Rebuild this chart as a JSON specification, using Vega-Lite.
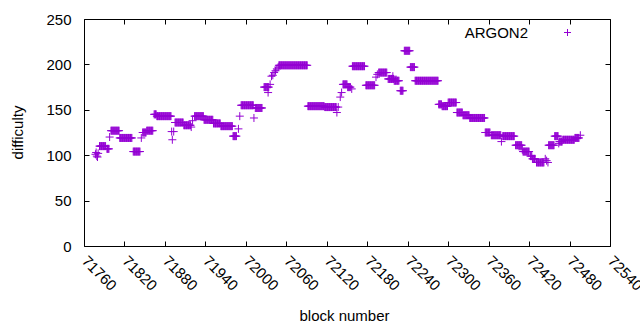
{
"$schema":"https://vega.github.io/schema/vega-lite/v6.json",
"autosize":"none",
"width":526,"height":227,
"padding":{"left":84,"top":19,"right":30,"bottom":84},
"config":{"view":{"stroke":"black","strokeWidth":1},"font":"Liberation Sans"},
"data":{"values":[
{"b":71777,"d":101},{"b":71778,"d":103},{"b":71779,"d":99},{"b":71780,"d":98},{"b":71781,"d":102},
{"b":71783,"d":110},{"b":71784,"d":110},{"b":71785,"d":110},{"b":71786,"d":110},{"b":71787,"d":110},{"b":71788,"d":110},{"b":71789,"d":110},{"b":71790,"d":110},{"b":71791,"d":110},{"b":71792,"d":110},
{"b":71794,"d":107},{"b":71795,"d":107},{"b":71796,"d":107},{"b":71797,"d":107},
{"b":71798,"d":120},
{"b":71800,"d":127},{"b":71801,"d":127},{"b":71802,"d":127},{"b":71803,"d":127},{"b":71804,"d":127},{"b":71805,"d":127},{"b":71806,"d":127},{"b":71807,"d":127},{"b":71808,"d":127},{"b":71809,"d":127},{"b":71810,"d":127},{"b":71811,"d":127},{"b":71812,"d":127},
{"b":71813,"d":119},{"b":71814,"d":119},{"b":71815,"d":119},{"b":71816,"d":119},{"b":71817,"d":119},{"b":71818,"d":119},{"b":71819,"d":119},{"b":71820,"d":119},{"b":71821,"d":119},{"b":71822,"d":119},{"b":71823,"d":119},{"b":71824,"d":119},{"b":71825,"d":119},{"b":71826,"d":119},{"b":71827,"d":119},{"b":71828,"d":119},{"b":71829,"d":119},{"b":71830,"d":119},{"b":71831,"d":119},
{"b":71833,"d":104},{"b":71834,"d":104},{"b":71835,"d":104},{"b":71836,"d":104},{"b":71837,"d":104},{"b":71838,"d":104},{"b":71839,"d":104},{"b":71840,"d":104},{"b":71841,"d":104},{"b":71842,"d":104},{"b":71843,"d":104},
{"b":71845,"d":119},
{"b":71847,"d":125},{"b":71848,"d":125},{"b":71849,"d":125},{"b":71850,"d":125},{"b":71851,"d":125},{"b":71852,"d":125},
{"b":71853,"d":127},{"b":71854,"d":127},{"b":71855,"d":127},{"b":71856,"d":127},{"b":71857,"d":127},{"b":71858,"d":127},{"b":71859,"d":127},{"b":71860,"d":127},{"b":71861,"d":127},{"b":71862,"d":127},
{"b":71864,"d":145},{"b":71865,"d":145},{"b":71866,"d":145},{"b":71867,"d":145},
{"b":71868,"d":143},{"b":71869,"d":143},{"b":71870,"d":143},{"b":71871,"d":143},{"b":71872,"d":143},{"b":71873,"d":143},{"b":71874,"d":143},{"b":71875,"d":143},{"b":71876,"d":143},{"b":71877,"d":143},{"b":71878,"d":143},{"b":71879,"d":143},{"b":71880,"d":143},{"b":71881,"d":143},{"b":71882,"d":143},{"b":71883,"d":143},{"b":71884,"d":143},{"b":71885,"d":143},{"b":71886,"d":143},{"b":71887,"d":143},{"b":71888,"d":143},{"b":71889,"d":143},
{"b":71890,"d":126},{"b":71891,"d":117},{"b":71893,"d":126},
{"b":71895,"d":136},{"b":71896,"d":136},{"b":71897,"d":136},{"b":71898,"d":136},{"b":71899,"d":136},{"b":71900,"d":136},{"b":71901,"d":136},{"b":71902,"d":136},{"b":71903,"d":136},{"b":71904,"d":136},{"b":71905,"d":136},{"b":71906,"d":136},{"b":71907,"d":136},
{"b":71908,"d":133},{"b":71909,"d":133},{"b":71910,"d":133},{"b":71911,"d":133},{"b":71912,"d":133},{"b":71913,"d":133},{"b":71914,"d":133},{"b":71915,"d":133},{"b":71916,"d":133},{"b":71917,"d":133},{"b":71918,"d":133},
{"b":71919,"d":131},{"b":71921,"d":138},
{"b":71924,"d":143},{"b":71925,"d":143},{"b":71926,"d":143},{"b":71927,"d":143},{"b":71928,"d":143},{"b":71929,"d":143},{"b":71930,"d":143},{"b":71931,"d":143},{"b":71932,"d":143},{"b":71933,"d":143},{"b":71934,"d":143},{"b":71935,"d":143},{"b":71936,"d":143},{"b":71937,"d":143},
{"b":71938,"d":139},{"b":71939,"d":139},{"b":71940,"d":139},{"b":71941,"d":139},{"b":71942,"d":139},{"b":71943,"d":139},{"b":71944,"d":139},{"b":71945,"d":139},{"b":71946,"d":139},{"b":71947,"d":139},{"b":71948,"d":139},{"b":71949,"d":139},{"b":71950,"d":139},{"b":71951,"d":139},
{"b":71952,"d":135},{"b":71953,"d":135},{"b":71954,"d":135},{"b":71955,"d":135},{"b":71956,"d":135},{"b":71957,"d":135},{"b":71958,"d":135},{"b":71959,"d":135},{"b":71960,"d":135},{"b":71961,"d":135},{"b":71962,"d":135},
{"b":71963,"d":132},{"b":71964,"d":132},{"b":71965,"d":132},{"b":71966,"d":132},{"b":71967,"d":132},{"b":71968,"d":132},{"b":71969,"d":132},{"b":71970,"d":132},{"b":71971,"d":132},{"b":71972,"d":132},{"b":71973,"d":132},{"b":71974,"d":132},{"b":71975,"d":132},{"b":71976,"d":132},{"b":71977,"d":132},{"b":71978,"d":132},{"b":71979,"d":132},{"b":71980,"d":132},
{"b":71981,"d":121},{"b":71982,"d":121},{"b":71983,"d":121},{"b":71984,"d":121},{"b":71985,"d":121},{"b":71986,"d":121},
{"b":71989,"d":129},{"b":71991,"d":143},
{"b":71993,"d":155},{"b":71994,"d":155},{"b":71995,"d":155},{"b":71996,"d":155},{"b":71997,"d":155},{"b":71998,"d":155},{"b":71999,"d":155},{"b":72000,"d":155},{"b":72001,"d":155},{"b":72002,"d":155},{"b":72003,"d":155},{"b":72004,"d":155},{"b":72005,"d":155},{"b":72006,"d":155},{"b":72007,"d":155},{"b":72008,"d":155},{"b":72009,"d":155},{"b":72010,"d":155},{"b":72011,"d":155},
{"b":72012,"d":141},
{"b":72014,"d":152},{"b":72015,"d":152},{"b":72016,"d":152},{"b":72017,"d":152},{"b":72018,"d":152},{"b":72019,"d":152},{"b":72020,"d":152},{"b":72021,"d":152},{"b":72022,"d":152},{"b":72023,"d":152},{"b":72024,"d":152},
{"b":72027,"d":175},{"b":72028,"d":175},{"b":72029,"d":175},{"b":72030,"d":175},{"b":72031,"d":175},{"b":72032,"d":175},{"b":72033,"d":175},{"b":72034,"d":175},
{"b":72033,"d":169},{"b":72036,"d":178},{"b":72038,"d":187},{"b":72040,"d":188},{"b":72042,"d":191},{"b":72044,"d":193},{"b":72046,"d":195},{"b":72048,"d":197},
{"b":72049,"d":199},{"b":72050,"d":199},{"b":72051,"d":199},{"b":72052,"d":199},{"b":72053,"d":199},{"b":72054,"d":199},{"b":72055,"d":199},{"b":72056,"d":199},{"b":72057,"d":199},{"b":72058,"d":199},{"b":72059,"d":199},{"b":72060,"d":199},{"b":72061,"d":199},{"b":72062,"d":199},{"b":72063,"d":199},{"b":72064,"d":199},{"b":72065,"d":199},{"b":72066,"d":199},{"b":72067,"d":199},{"b":72068,"d":199},{"b":72069,"d":199},{"b":72070,"d":199},{"b":72071,"d":199},{"b":72072,"d":199},{"b":72073,"d":199},{"b":72074,"d":199},{"b":72075,"d":199},{"b":72076,"d":199},{"b":72077,"d":199},{"b":72078,"d":199},{"b":72079,"d":199},{"b":72080,"d":199},{"b":72081,"d":199},{"b":72082,"d":199},{"b":72083,"d":199},{"b":72084,"d":199},{"b":72085,"d":199},{"b":72086,"d":199},{"b":72087,"d":199},{"b":72088,"d":199},{"b":72089,"d":199},{"b":72090,"d":199},{"b":72091,"d":199},
{"b":72092,"d":154},{"b":72093,"d":154},{"b":72094,"d":154},{"b":72095,"d":154},{"b":72096,"d":154},{"b":72097,"d":154},{"b":72098,"d":154},{"b":72099,"d":154},{"b":72100,"d":154},{"b":72101,"d":154},{"b":72102,"d":154},{"b":72103,"d":154},{"b":72104,"d":154},{"b":72105,"d":154},{"b":72106,"d":154},{"b":72107,"d":154},{"b":72108,"d":154},{"b":72109,"d":154},{"b":72110,"d":154},{"b":72111,"d":154},{"b":72112,"d":154},{"b":72113,"d":154},{"b":72114,"d":154},{"b":72115,"d":154},{"b":72116,"d":154},
{"b":72117,"d":153},{"b":72118,"d":153},{"b":72119,"d":153},{"b":72120,"d":153},{"b":72121,"d":153},{"b":72122,"d":153},{"b":72123,"d":153},{"b":72124,"d":153},{"b":72125,"d":153},{"b":72126,"d":153},{"b":72127,"d":153},{"b":72128,"d":153},{"b":72129,"d":153},{"b":72130,"d":153},{"b":72131,"d":153},{"b":72132,"d":153},{"b":72133,"d":153},{"b":72134,"d":153},
{"b":72135,"d":147},{"b":72137,"d":153},{"b":72140,"d":164},{"b":72142,"d":169},
{"b":72144,"d":178},{"b":72145,"d":178},{"b":72146,"d":178},{"b":72147,"d":178},{"b":72148,"d":178},{"b":72149,"d":178},{"b":72150,"d":178},
{"b":72151,"d":175},{"b":72152,"d":175},{"b":72153,"d":175},{"b":72154,"d":175},{"b":72155,"d":175},
{"b":72157,"d":173},
{"b":72158,"d":198},{"b":72159,"d":198},{"b":72160,"d":198},{"b":72161,"d":198},{"b":72162,"d":198},{"b":72163,"d":198},{"b":72164,"d":198},{"b":72165,"d":198},{"b":72166,"d":198},{"b":72167,"d":198},{"b":72168,"d":198},{"b":72169,"d":198},{"b":72170,"d":198},{"b":72171,"d":198},{"b":72172,"d":198},{"b":72173,"d":198},{"b":72174,"d":198},{"b":72175,"d":198},{"b":72176,"d":198},
{"b":72178,"d":177},{"b":72179,"d":177},{"b":72180,"d":177},{"b":72181,"d":177},{"b":72182,"d":177},{"b":72183,"d":177},{"b":72184,"d":177},{"b":72185,"d":177},{"b":72186,"d":177},{"b":72187,"d":177},{"b":72188,"d":177},{"b":72189,"d":177},{"b":72190,"d":177},{"b":72191,"d":177},
{"b":72193,"d":186},{"b":72195,"d":189},
{"b":72197,"d":191},{"b":72198,"d":191},{"b":72199,"d":191},{"b":72200,"d":191},{"b":72201,"d":191},{"b":72202,"d":191},{"b":72203,"d":191},{"b":72204,"d":191},{"b":72205,"d":191},{"b":72206,"d":191},{"b":72207,"d":191},{"b":72208,"d":191},{"b":72209,"d":191},
{"b":72211,"d":184},{"b":72212,"d":184},{"b":72213,"d":184},{"b":72214,"d":184},{"b":72215,"d":184},{"b":72216,"d":184},{"b":72217,"d":184},{"b":72218,"d":184},{"b":72219,"d":184},{"b":72218,"d":187},
{"b":72220,"d":182},{"b":72221,"d":182},{"b":72222,"d":182},{"b":72223,"d":182},{"b":72224,"d":182},{"b":72225,"d":182},{"b":72226,"d":182},{"b":72227,"d":182},
{"b":72229,"d":171},{"b":72230,"d":171},{"b":72231,"d":171},{"b":72232,"d":171},{"b":72233,"d":171},
{"b":72235,"d":215},{"b":72236,"d":215},{"b":72237,"d":215},{"b":72238,"d":215},{"b":72239,"d":215},{"b":72240,"d":215},{"b":72241,"d":215},{"b":72242,"d":215},{"b":72243,"d":215},
{"b":72244,"d":197},{"b":72245,"d":197},{"b":72246,"d":197},{"b":72247,"d":197},{"b":72248,"d":197},{"b":72249,"d":197},{"b":72250,"d":197},
{"b":72251,"d":182},{"b":72252,"d":182},{"b":72253,"d":182},{"b":72254,"d":182},{"b":72255,"d":182},{"b":72256,"d":182},{"b":72257,"d":182},{"b":72258,"d":182},{"b":72259,"d":182},{"b":72260,"d":182},{"b":72261,"d":182},{"b":72262,"d":182},{"b":72263,"d":182},{"b":72264,"d":182},{"b":72265,"d":182},{"b":72266,"d":182},{"b":72267,"d":182},{"b":72268,"d":182},{"b":72269,"d":182},{"b":72270,"d":182},{"b":72271,"d":182},{"b":72272,"d":182},{"b":72273,"d":182},{"b":72274,"d":182},{"b":72275,"d":182},{"b":72276,"d":182},{"b":72277,"d":182},{"b":72278,"d":182},{"b":72279,"d":182},{"b":72280,"d":182},{"b":72281,"d":182},{"b":72282,"d":182},{"b":72283,"d":182},{"b":72284,"d":182},{"b":72285,"d":182},
{"b":72286,"d":156},{"b":72287,"d":156},{"b":72288,"d":156},{"b":72289,"d":156},{"b":72290,"d":156},
{"b":72291,"d":154},{"b":72292,"d":154},{"b":72293,"d":154},{"b":72294,"d":154},{"b":72295,"d":154},{"b":72296,"d":154},{"b":72297,"d":154},{"b":72298,"d":154},{"b":72299,"d":154},
{"b":72300,"d":158},{"b":72301,"d":158},{"b":72302,"d":158},{"b":72303,"d":158},{"b":72304,"d":158},{"b":72305,"d":158},{"b":72306,"d":158},{"b":72307,"d":158},{"b":72308,"d":158},{"b":72309,"d":158},{"b":72310,"d":158},{"b":72311,"d":158},{"b":72312,"d":158},
{"b":72313,"d":147},{"b":72314,"d":147},{"b":72315,"d":147},{"b":72316,"d":147},{"b":72317,"d":147},{"b":72318,"d":147},{"b":72319,"d":147},{"b":72320,"d":147},{"b":72321,"d":147},
{"b":72322,"d":144},{"b":72323,"d":144},{"b":72324,"d":144},{"b":72325,"d":144},{"b":72326,"d":144},{"b":72327,"d":144},{"b":72328,"d":144},{"b":72329,"d":144},{"b":72330,"d":144},{"b":72331,"d":144},
{"b":72332,"d":141},{"b":72333,"d":141},{"b":72334,"d":141},{"b":72335,"d":141},{"b":72336,"d":141},{"b":72337,"d":141},{"b":72338,"d":141},{"b":72339,"d":141},{"b":72340,"d":141},{"b":72341,"d":141},{"b":72342,"d":141},{"b":72343,"d":141},{"b":72344,"d":141},{"b":72345,"d":141},{"b":72346,"d":141},{"b":72347,"d":141},{"b":72348,"d":141},{"b":72349,"d":141},{"b":72350,"d":141},{"b":72351,"d":141},{"b":72352,"d":141},{"b":72353,"d":141},{"b":72354,"d":141},
{"b":72355,"d":125},{"b":72356,"d":125},{"b":72357,"d":125},{"b":72358,"d":125},{"b":72359,"d":125},{"b":72360,"d":125},{"b":72361,"d":125},{"b":72362,"d":125},
{"b":72364,"d":122},{"b":72365,"d":122},{"b":72366,"d":122},{"b":72367,"d":122},{"b":72368,"d":122},{"b":72369,"d":122},{"b":72370,"d":122},{"b":72371,"d":122},{"b":72372,"d":122},{"b":72373,"d":122},{"b":72374,"d":122},{"b":72375,"d":122},{"b":72376,"d":122},{"b":72377,"d":122},{"b":72378,"d":122},
{"b":72379,"d":115},
{"b":72381,"d":121},{"b":72382,"d":121},{"b":72383,"d":121},{"b":72384,"d":121},{"b":72385,"d":121},{"b":72386,"d":121},{"b":72387,"d":121},{"b":72388,"d":121},{"b":72389,"d":121},{"b":72390,"d":121},{"b":72391,"d":121},{"b":72392,"d":121},{"b":72393,"d":121},{"b":72394,"d":121},{"b":72395,"d":121},{"b":72396,"d":121},{"b":72397,"d":121},{"b":72398,"d":121},
{"b":72400,"d":111},{"b":72401,"d":111},{"b":72402,"d":111},{"b":72403,"d":111},{"b":72404,"d":111},{"b":72405,"d":111},{"b":72406,"d":111},{"b":72407,"d":111},{"b":72408,"d":111},{"b":72409,"d":111},
{"b":72410,"d":106},
{"b":72411,"d":104},{"b":72412,"d":104},{"b":72413,"d":104},{"b":72414,"d":104},{"b":72415,"d":104},{"b":72416,"d":104},{"b":72417,"d":104},{"b":72418,"d":104},{"b":72419,"d":104},{"b":72420,"d":104},
{"b":72422,"d":99},{"b":72423,"d":99},{"b":72424,"d":99},
{"b":72425,"d":96},{"b":72426,"d":96},{"b":72427,"d":96},{"b":72428,"d":96},{"b":72429,"d":96},
{"b":72431,"d":92},{"b":72432,"d":92},{"b":72433,"d":92},{"b":72434,"d":92},{"b":72435,"d":92},{"b":72436,"d":92},{"b":72437,"d":92},{"b":72438,"d":92},{"b":72439,"d":92},{"b":72440,"d":92},{"b":72441,"d":92},{"b":72442,"d":92},
{"b":72444,"d":96},{"b":72446,"d":94},{"b":72448,"d":92},
{"b":72449,"d":111},{"b":72450,"d":111},{"b":72451,"d":111},{"b":72452,"d":111},{"b":72453,"d":111},{"b":72454,"d":111},{"b":72455,"d":111},{"b":72456,"d":111},{"b":72457,"d":111},
{"b":72458,"d":121},{"b":72459,"d":121},{"b":72460,"d":121},{"b":72461,"d":121},{"b":72462,"d":121},{"b":72463,"d":121},
{"b":72464,"d":113},
{"b":72465,"d":115},{"b":72466,"d":115},{"b":72467,"d":115},{"b":72468,"d":115},{"b":72469,"d":115},
{"b":72470,"d":117},{"b":72471,"d":117},{"b":72472,"d":117},{"b":72473,"d":117},{"b":72474,"d":117},{"b":72475,"d":117},{"b":72476,"d":117},{"b":72477,"d":117},{"b":72478,"d":117},{"b":72479,"d":117},{"b":72480,"d":117},{"b":72481,"d":117},{"b":72482,"d":117},{"b":72483,"d":117},{"b":72484,"d":117},{"b":72485,"d":117},{"b":72486,"d":117},{"b":72487,"d":117},
{"b":72488,"d":119},{"b":72489,"d":119},{"b":72490,"d":119},{"b":72491,"d":119},{"b":72492,"d":119},{"b":72493,"d":119},{"b":72494,"d":119},
{"b":72496,"d":122}
]},
"layer":[
{
"mark":{"type":"point","shape":"M-1,0L1,0M0,-1L0,1","size":64,"filled":false,"strokeWidth":1,"opacity":1},
"encoding":{
"x":{"field":"b","type":"quantitative","scale":{"domain":[71760,72540],"nice":false,"zero":false},
"axis":{"orient":"bottom","values":[71760,71820,71880,71940,72000,72060,72120,72180,72240,72300,72360,72420,72480,72540],"format":"d","labelAngle":45,"labelAlign":"left","labelBaseline":"middle","labelFontSize":15,"labelColor":"black","labelPadding":17,"tickSize":-5,"tickColor":"black","domain":false,"grid":false,"labelFlush":false,"labelOverlap":false,"title":"block number","titleFontSize":15,"titleFontWeight":"normal","titleColor":"black","titleX":260,"titleY":69,"titleBaseline":"middle","titleAlign":"center"}},
"y":{"field":"d","type":"quantitative","scale":{"domain":[0,250],"nice":false,"zero":false},
"axis":{"orient":"left","values":[0,50,100,150,200,250],"labelFontSize":15,"labelColor":"black","labelPadding":18,"tickSize":-5,"tickColor":"black","domain":false,"grid":false,"labelFlush":false,"labelOverlap":false,"title":"difficulty","titleFontSize":15,"titleFontWeight":"normal","titleColor":"black","titleX":-67,"titleY":113,"titleBaseline":"middle","titleAlign":"center","titleAngle":-90}},
"color":{"datum":"ARGON2","type":"nominal","scale":{"range":["#9400d3"]},
"legend":{"orient":"none","legendX":476,"legendY":6,"title":null,"padding":0,"symbolType":"M-1,0L1,0M0,-1L0,1","symbolSize":49,"symbolStrokeWidth":1,"symbolStrokeColor":"#9400d3","symbolFillColor":"transparent","labelAlign":"right","labelOffset":-47,"labelFontSize":15,"labelColor":"black","labelLimit":0}}
}
},
{
"mark":{"type":"point","opacity":0},
"encoding":{
"x":{"field":"b","type":"quantitative","axis":{"orient":"top","values":[71760,71820,71880,71940,72000,72060,72120,72180,72240,72300,72360,72420,72480,72540],"labels":false,"tickSize":-5,"tickColor":"black","domain":false,"grid":false,"title":null}},
"y":{"field":"d","type":"quantitative","axis":{"orient":"right","values":[0,50,100,150,200,250],"labels":false,"tickSize":-5,"tickColor":"black","domain":false,"grid":false,"title":null}}
}
}
],
"resolve":{"axis":{"x":"independent","y":"independent"}}
}
